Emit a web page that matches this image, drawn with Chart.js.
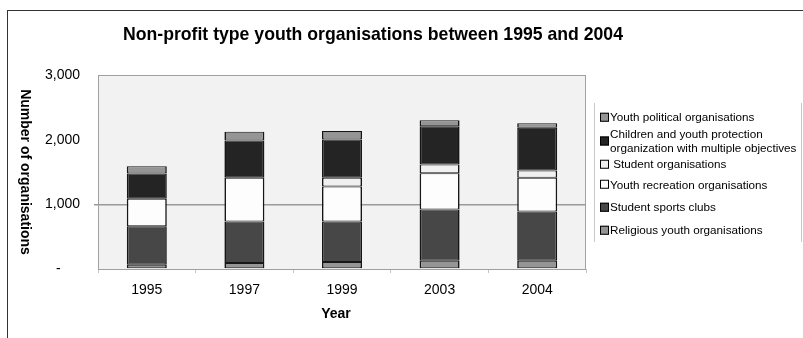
<!DOCTYPE html>
<html>
<head>
<meta charset="utf-8">
<script src="https://cdn.jsdelivr.net/npm/chart.js@4.4.1/dist/chart.umd.min.js"></script>
<style>
  html, body { margin: 0; padding: 0; background: #fff; }
  #wrap { position: relative; width: 803px; height: 338px; overflow: hidden;
          font-family: "Liberation Sans", Arial, sans-serif; }
  #frame { position: absolute; left: 7px; top: 10px; right: -4px; bottom: -4px;
           border-left: 1px solid #333; border-top: 1px solid #333; }
  #chart { position: absolute; left: 0; top: 0; }
  #legend { position: absolute; left: 594px; top: 103px; width: 206px; height: 139px;
            border-left: 1px solid #c8c8c8; border-right: 1px solid #c8c8c8; }
  .lg-item { position: absolute; left: 5px; transform: translateY(-50%);
             display: flex; align-items: center; font-size: 11.7px; line-height: 14.5px;
             color: #000; white-space: pre; }
  .lg-box { width: 7px; height: 7px; border: 1px solid #000; margin-right: 1px; flex: none; }
</style>
</head>
<body>
<div id="wrap">
  <div id="frame"></div>
  <canvas id="chart" width="803" height="338"></canvas>
  <div id="legend"></div>
</div>
<script>
// organisations per year, bottom of the stack first
const years = ["1995", "1997", "1999", "2003", "2004"];
const religious = [67, 93, 108, 129, 129];
const sportsClubs = [593, 640, 625, 790, 759];
const recreation = [425, 677, 543, 563, 522];
const studentOrgs = [0, 0, 134, 135, 114];
const childProtection = [392, 579, 594, 589, 661];
const political = [113, 135, 129, 93, 67];
const yTicks = [0, 1000, 2000, 3000];

const FONT = '"Liberation Sans", Arial, sans-serif';
const EDGE = "#161616";

// legend rows, px from the top of the legend box
const legendRows = [14, 37.5, 61, 81.5, 104, 127];

// top/bottom edges kept thin so neighbouring segments share one line
function seg(label, data, color) {
  return { label, data, backgroundColor: color, borderColor: EDGE,
           borderWidth: { left: 1.6, right: 1.6, top: 1, bottom: 1 },
           borderSkipped: false, barPercentage: 0.41, categoryPercentage: 1 };
}

const datasets = [
  seg("Religious youth organisations", religious, "#959595"),
  seg("Student sports clubs", sportsClubs, "#474747"),
  seg("Youth recreation organisations", recreation, "#fdfdfd"),
  seg(" Student organisations", studentOrgs, "#f0f0f0"),
  seg("Children and youth protection\norganization with multiple objectives", childProtection, "#242424"),
  seg("Youth political organisations", political, "#959595")
];

// grey plot panel, its border, and the chart / axis titles
const frame = {
  id: "frame",
  beforeDraw(chart) {
    const a = chart.chartArea, c = chart.ctx;
    c.save();
    c.fillStyle = "#f2f2f2";
    c.fillRect(a.left, a.top, a.right - a.left, a.bottom - a.top);
    c.restore();
  },
  afterDraw(chart) {
    const a = chart.chartArea, c = chart.ctx;
    c.save();
    c.strokeStyle = "#a0a0a0";
    c.lineWidth = 1;
    c.strokeRect(a.left + 0.5, a.top + 0.5, a.right - a.left - 1, a.bottom - a.top);

    c.fillStyle = "#000";
    c.textAlign = "center";
    c.textBaseline = "middle";
    c.font = "bold 19px " + FONT;
    c.fillText("Non-profit type youth organisations between 1995 and 2004", 373, 35, 500);

    c.font = "bold 14px " + FONT;
    c.fillText("Year", 336, 314);

    c.translate(25, (a.top + a.bottom) / 2);
    c.rotate(Math.PI / 2);
    c.fillText("Number of organisations", 0, 0);
    c.restore();
  }
};

const chart = new Chart(document.getElementById("chart").getContext("2d"), {
  type: "bar",
  data: { labels: years, datasets },
  plugins: [frame],
  options: {
    responsive: false, animation: false, devicePixelRatio: 1,
    layout: { padding: { top: 75, right: 217, bottom: 0, left: 0 } },
    plugins: { legend: { display: false }, tooltip: { enabled: false } },
    scales: {
      x: {
        stacked: true,
        grid: { offset: true, drawOnChartArea: false, tickLength: 4, color: "#c4c4c4" },
        border: { display: false },
        ticks: { color: "#000", padding: 9, font: { size: 14, family: FONT } },
        afterFit: (s) => { s.height = 69; }
      },
      y: {
        stacked: true, min: 0, max: 3000,
        afterBuildTicks: (s) => { s.ticks = yTicks.map((v) => ({ value: v })); },
        grid: {
          color: (ctx) => (ctx.tick && ctx.tick.value === 1000 ? "#9a9a9a" : "rgba(0,0,0,0)"),
          lineWidth: 1.5, tickLength: 4
        },
        border: { display: false },
        ticks: {
          color: "#000", padding: 14, font: { size: 14, family: FONT },
          callback: (v) => (v === 0 ? "-     " : v.toLocaleString("en-US"))
        },
        afterFit: (s) => { s.width = 98; }
      }
    }
  }
});

// legend, top of the stack first
const legend = document.getElementById("legend");
chart.data.datasets.slice().reverse().forEach((d, i) => {
  const row = document.createElement("div");
  row.className = "lg-item";
  row.style.top = legendRows[i] + "px";
  const box = document.createElement("span");
  box.className = "lg-box";
  box.style.background = d.backgroundColor;
  const txt = document.createElement("span");
  txt.textContent = d.label;
  row.appendChild(box);
  row.appendChild(txt);
  legend.appendChild(row);
});
</script>
</body>
</html>
